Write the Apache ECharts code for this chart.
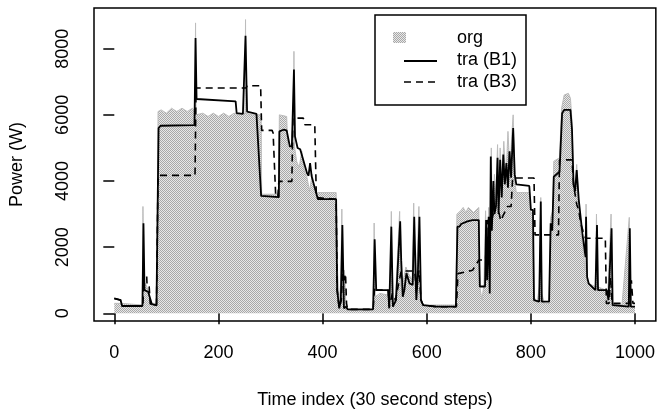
<!DOCTYPE html>
<html>
<head>
<meta charset="utf-8">
<script src="https://cdn.jsdelivr.net/npm/echarts@6/dist/echarts.min.js"></script>
<style>
  html, body { margin: 0; padding: 0; background: #fff; }
  #main { width: 658px; height: 414px; }
</style>
</head>
<body>
<div id="main"></div>
<script>
// 刻度
var xTicks = [0, 200, 400, 600, 800, 1000];
var yTicks = [0, 2000, 4000, 6000, 8000];

// org: [时间索引, 功率]
var orgData = [
  [0, 300], [14, 300], [15, 250], [54, 250], [55, 3230], [57, 800], [60, 900], [65, 700], [70, 300], [82, 300],
  [84, 6100], [90, 6150], [100, 6050], [110, 6200], [120, 6100], [130, 6200], [140, 6100], [150, 6200], [155, 6100],
  [156, 8780], [157, 6000], [170, 6050], [180, 5950], [190, 6050], [200, 5950], [210, 6050], [220, 5950], [230, 6050],
  [240, 6000], [251, 6050], [252, 8880], [253, 6050], [265, 6000], [282, 6000], [283, 3600], [316, 3600], [317, 6000],
  [331, 5950], [333, 5050], [344, 5050], [345, 7920], [346, 5050], [350, 4600], [355, 4400], [360, 4900], [365, 4300],
  [370, 4100], [375, 3700], [380, 4200], [385, 3700], [391, 3650], [426, 3650], [428, 1500], [432, 300], [435, 1000],
  [437, 3150], [439, 300], [442, 1300], [445, 200], [448, 100], [497, 100], [499, 2730], [501, 500], [510, 600],
  [526, 550], [530, 300], [532, 3080], [534, 300], [540, 500], [548, 3080], [550, 800], [555, 1000], [560, 1400],
  [565, 1200], [572, 1000], [575, 3330], [577, 800], [581, 1300], [585, 3230], [587, 500], [592, 250], [656, 250],
  [658, 3000], [665, 3100], [670, 3200], [675, 3050], [680, 3200], [690, 3050], [700, 3200], [702, 800], [706, 400],
  [710, 900], [713, 3100], [716, 1500], [719, 3200], [721, 800], [724, 5000], [726, 2800], [730, 4200], [733, 3500],
  [736, 5100], [738, 3400], [741, 5000], [744, 3800], [748, 5200], [752, 4000], [756, 5500], [760, 4200], [763, 5300],
  [766, 6000], [769, 4000], [772, 3650], [797, 3650], [800, 3000], [804, 3100], [806, 500], [812, 300], [816, 800],
  [819, 3500], [821, 600], [826, 300], [835, 300], [838, 2900], [842, 3100], [844, 4600], [855, 4700], [859, 6200],
  [864, 6600], [872, 6650], [876, 6500], [879, 5800], [882, 4000], [885, 3800], [888, 4500], [892, 3300], [896, 2400],
  [900, 2000], [904, 1300], [906, 3300], [908, 1000], [912, 900], [924, 800], [926, 3000], [928, 800], [945, 700],
  [947, 300], [954, 3000], [956, 300], [975, 250], [989, 2900], [991, 200], [1000, 200]
];

// tra (B1)
var b1Data = [
  [0, 450], [12, 400], [15, 220], [54, 220], [56, 2720], [58, 700], [65, 650], [72, 280], [81, 240], [85, 5600],
  [89, 5670], [154, 5690], [156, 8320], [158, 6480], [160, 6460], [233, 6410], [235, 6050], [247, 6030], [252, 8390],
  [255, 6100], [258, 6050], [273, 6030], [282, 3550], [316, 3510], [317, 5500], [325, 5550], [331, 5530], [337, 5050],
  [341, 5050], [345, 7370], [347, 5350], [352, 5000], [357, 4960], [370, 4240], [373, 4160], [376, 4540], [379, 4140],
  [391, 3450], [426, 3450], [428, 700], [432, 150], [435, 400], [438, 2670], [441, 150], [445, 200], [448, 120],
  [497, 120], [500, 2240], [503, 700], [526, 700], [528, 150], [532, 2620], [535, 200], [541, 400], [549, 2780],
  [551, 1600], [554, 500], [557, 700], [561, 1210], [567, 900], [573, 860], [576, 2920], [580, 400], [583, 1210],
  [586, 2920], [589, 400], [593, 250], [618, 200], [656, 200], [659, 2620], [663, 2620], [666, 2700], [678, 2780],
  [688, 2820], [700, 2820], [701, 1600], [702, 810], [712, 810], [714, 2820], [716, 1000], [719, 2920], [721, 600],
  [723, 4740], [725, 2500], [728, 4000], [730, 3000], [733, 3230], [736, 4700], [738, 3000], [741, 4640], [744, 3500],
  [747, 4800], [750, 3900], [753, 4540], [756, 3800], [759, 4900], [762, 4100], [766, 5600], [769, 4200], [772, 3900],
  [797, 3850], [800, 3130], [804, 3130], [806, 400], [816, 350], [819, 3380], [821, 350], [835, 350], [838, 2720],
  [841, 2500], [844, 4130], [855, 4280], [860, 6050], [864, 6150], [876, 6150], [879, 5550], [882, 3880], [885, 3700],
  [888, 4330], [892, 3430], [899, 2400], [905, 1700], [906, 2920], [908, 1100], [911, 900], [924, 700], [927, 2670],
  [929, 700], [946, 700], [949, 400], [955, 2570], [957, 250], [988, 200], [990, 2570], [992, 200], [1000, 200]
];

// tra (B3)
var b3Data = [
  [0, 450], [12, 400], [15, 220], [55, 220], [57, 1210], [62, 1210], [63, 800], [67, 800], [69, 280], [81, 240],
  [84, 4170], [155, 4170], [157, 6810], [253, 6810], [255, 6880], [281, 6880], [283, 5530], [303, 5530], [305, 5450],
  [308, 5450], [310, 3530], [314, 3530], [316, 3990], [341, 3990], [343, 5900], [363, 5900], [366, 5700], [385, 5700],
  [388, 3500], [391, 3450], [426, 3450], [428, 700], [432, 150], [436, 400], [438, 1200], [441, 1000], [444, 1200],
  [446, 300], [448, 120], [497, 120], [500, 800], [503, 700], [526, 700], [528, 200], [534, 600], [540, 400],
  [546, 900], [551, 1280], [577, 1280], [580, 600], [585, 1300], [589, 400], [593, 250], [618, 200], [657, 200],
  [660, 1200], [688, 1300], [700, 1610], [713, 1610], [716, 2820], [720, 2500], [728, 3030], [739, 3030], [742, 2800],
  [755, 3230], [762, 3230], [765, 4090], [806, 4090], [808, 2370], [853, 2370], [855, 4640], [879, 4640], [882, 3880],
  [888, 3300], [892, 3100], [896, 2700], [900, 2500], [905, 2270], [943, 2270], [945, 300], [950, 300], [953, 1100],
  [956, 300], [990, 300], [993, 1000], [996, 300], [1000, 300]
];

// 网点填充
function makeStipple() {
  var c = document.createElement('canvas');
  c.width = 2;
  c.height = 2;
  var ctx = c.getContext('2d');
  ctx.fillStyle = '#e8e8e8';
  ctx.fillRect(0, 0, 2, 2);
  ctx.fillStyle = '#a8a8a8';
  ctx.fillRect(0, 0, 1, 1);
  ctx.fillRect(1, 1, 1, 1);
  return c;
}
var stipple = { image: makeStipple(), repeat: 'repeat' };

var font = 'Liberation Sans, Arial, Helvetica, sans-serif';

var myChart = echarts.init(document.getElementById('main'));

var option = {
  animation: false,
  backgroundColor: '#fff',
  grid: {
    left: 93, right: 1, top: 8, bottom: 93,
    show: true, borderColor: '#000', borderWidth: 1.5, backgroundColor: 'transparent'
  },
  xAxis: {
    type: 'value',
    min: -39,
    max: 1040,
    axisLine: { show: false },
    splitLine: { show: false },
    axisTick: { customValues: xTicks, length: 11, lineStyle: { color: '#000', width: 1.5 } },
    axisLabel: {
      customValues: xTicks, margin: 23, fontSize: 18, color: '#000', fontFamily: font,
      formatter: function (v) { return String(v); }
    },
    name: 'Time index (30 second steps)',
    nameLocation: 'middle',
    nameGap: 70,
    nameTextStyle: { fontSize: 18, color: '#000', fontFamily: font }
  },
  yAxis: {
    type: 'value',
    min: -233,
    max: 9231,
    axisLine: { show: false },
    splitLine: { show: false },
    axisTick: { customValues: yTicks, length: 11, lineStyle: { color: '#000', width: 1.5 } },
    axisLabel: {
      customValues: yTicks, rotate: 90, margin: 22, fontSize: 18, color: '#000', fontFamily: font,
      formatter: function (v) { return String(v); }
    },
    name: 'Power (W)',
    nameLocation: 'middle',
    nameGap: 68,
    nameTextStyle: { fontSize: 18, color: '#000', fontFamily: font }
  },
  series: [
    {
      name: 'org',
      type: 'line',
      data: orgData,
      symbol: 'none',
      lineStyle: { color: '#bcbcbc', width: 1 },
      areaStyle: { color: stipple, opacity: 1 },
      z: 1
    },
    {
      name: 'tra (B1)',
      type: 'line',
      data: b1Data,
      symbol: 'none',
      lineStyle: { color: '#000', width: 1.8 },
      z: 3
    },
    {
      name: 'tra (B3)',
      type: 'line',
      data: b3Data,
      symbol: 'none',
      lineStyle: { color: '#000', width: 1.6, type: [7, 5] },
      z: 2
    }
  ],
  // 图例
  graphic: [
    { type: 'rect', shape: { x: 375, y: 15, width: 151, height: 90 }, style: { fill: '#fff', stroke: '#000', lineWidth: 1.5 }, z: 10 },
    { type: 'rect', shape: { x: 393, y: 32, width: 13, height: 11 }, style: { fill: stipple }, z: 11 },
    { type: 'line', shape: { x1: 404, y1: 61, x2: 437, y2: 61 }, style: { stroke: '#000', lineWidth: 1.8 }, z: 11 },
    { type: 'line', shape: { x1: 404, y1: 82, x2: 437, y2: 82 }, style: { stroke: '#000', lineWidth: 1.6, lineDash: [7, 5] }, z: 11 },
    { type: 'text', x: 457, y: 38, style: { text: 'org', font: '18px ' + font, fill: '#000', verticalAlign: 'middle' }, z: 11 },
    { type: 'text', x: 457, y: 60.5, style: { text: 'tra (B1)', font: '18px ' + font, fill: '#000', verticalAlign: 'middle' }, z: 11 },
    { type: 'text', x: 457, y: 82, style: { text: 'tra (B3)', font: '18px ' + font, fill: '#000', verticalAlign: 'middle' }, z: 11 }
  ]
};

myChart.setOption(option);
</script>
</body>
</html>
